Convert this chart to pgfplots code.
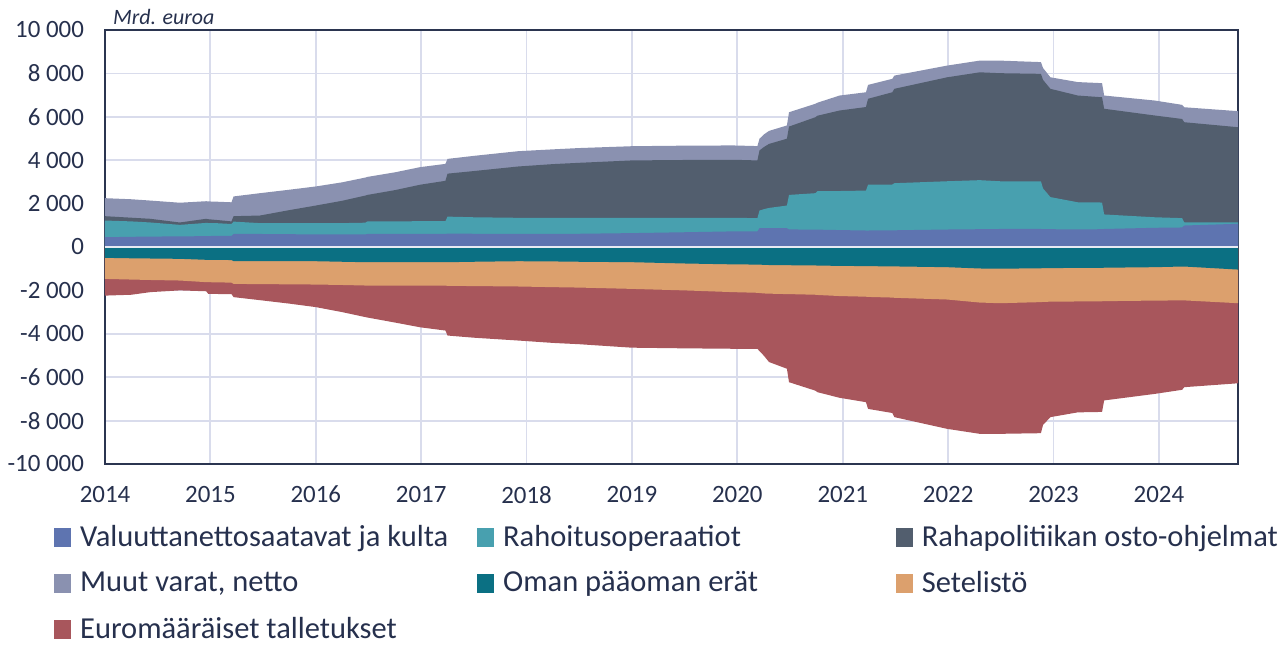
\documentclass[border=0pt]{standalone}
\usepackage{pgfplots}
\pgfplotsset{compat=1.18}
\usepackage{pgfplotstable}
\usepackage{fontspec}
\setmainfont{Carlito}
\definecolor{cVal}{HTML}{5E74B0}
\definecolor{cRah}{HTML}{48A0AF}
\definecolor{cOsto}{HTML}{525E6E}
\definecolor{cMuut}{HTML}{8A91B0}
\definecolor{cOman}{HTML}{0B7083}
\definecolor{cSet}{HTML}{DCA06D}
\definecolor{cEuro}{HTML}{A8565C}
\definecolor{gridc}{HTML}{D9DCEC}
\definecolor{axisc}{HTML}{2B3550}
\definecolor{textc}{HTML}{26304D}
% cumulative boundaries: b1..b4 positive stack tops, n1..n3 negative stack bottoms
\pgfplotstableread{
x b1 b2 b3 b4 n1 n2 n3
2014.00 450 1220 1420 2250 -500 -1470 -2240
2014.25 470 1180 1350 2200 -520 -1500 -2200
2014.43 480 1130 1300 2140 -530 -1520 -2080
2014.71 490 1020 1130 2040 -545 -1545 -2000
2014.96 500 1110 1300 2110 -590 -1620 -2040
2014.98 505 1105 1280 2100 -590 -1620 -2160
2015.05 510 1100 1250 2090 -595 -1630 -2165
2015.20 510 1060 1180 2060 -600 -1640 -2170
2015.22 600 1170 1420 2330 -650 -1700 -2310
2015.47 600 1100 1450 2480 -650 -1710 -2450
2015.75 590 1100 1700 2640 -652 -1720 -2610
2016.00 580 1100 1910 2790 -655 -1730 -2770
2016.25 580 1100 2130 2980 -680 -1750 -3000
2016.47 580 1120 2370 3200 -700 -1775 -3230
2016.49 600 1180 2400 3230 -700 -1775 -3250
2016.75 600 1180 2620 3440 -700 -1775 -3480
2016.99 600 1190 2870 3680 -700 -1775 -3700
2017.23 600 1190 3050 3830 -700 -1780 -3850
2017.25 620 1400 3380 4060 -700 -1790 -4080
2017.50 610 1370 3500 4200 -680 -1800 -4180
2017.92 600 1345 3710 4415 -655 -1820 -4310
2018.25 600 1345 3820 4500 -665 -1850 -4420
2018.50 610 1345 3880 4560 -680 -1870 -4480
2019.00 640 1345 3990 4645 -700 -1930 -4640
2019.50 680 1345 4010 4670 -760 -2000 -4670
2019.96 720 1345 4020 4680 -800 -2080 -4690
2020.19 720 1330 3990 4650 -810 -2110 -4690
2020.21 866 1680 4450 4990 -815 -2120 -4800
2020.25 868 1740 4600 5180 -820 -2140 -5000
2020.30 870 1800 4750 5350 -830 -2150 -5300
2020.47 866 1910 4990 5600 -840 -2170 -5610
2020.49 810 2400 5550 6210 -840 -2170 -6230
2020.74 800 2480 5980 6600 -850 -2200 -6620
2020.76 800 2570 6050 6650 -855 -2210 -6690
2020.97 780 2580 6290 6980 -870 -2260 -6950
2021.22 760 2600 6450 7130 -880 -2290 -7150
2021.24 760 2870 6830 7470 -885 -2300 -7460
2021.47 770 2880 7130 7750 -890 -2330 -7650
2021.49 770 2940 7290 7900 -895 -2340 -7840
2021.99 806 3030 7820 8360 -930 -2420 -8380
2022.30 820 3080 8050 8590 -990 -2560 -8610
2022.49 830 3030 8010 8590 -1000 -2590 -8610
2022.88 830 3030 7980 8520 -980 -2540 -8580
2022.90 825 2700 7700 8250 -975 -2530 -8200
2022.97 820 2300 7290 7820 -970 -2520 -7840
2023.23 810 2060 6980 7600 -965 -2510 -7620
2023.46 820 2050 6900 7550 -960 -2500 -7600
2023.48 830 1500 6370 6980 -955 -2495 -7070
2023.96 885 1370 6060 6750 -930 -2470 -6770
2024.22 900 1330 5900 6550 -900 -2460 -6580
2024.24 990 1140 5750 6440 -900 -2460 -6460
2024.75 1070 1140 5520 6260 -1040 -2590 -6280
}\data

\begin{document}
\begin{tikzpicture}
\path[use as bounding box] (-52.5bp,-91.5bp) rectangle (590bp,232bp);
\begin{axis}[
  at={(0,0)}, anchor=south west,
  scale only axis, width=566.5bp, height=217bp,
  xmin=2014, xmax=2024.75, ymin=-10000, ymax=10000,
  xtick={2014,2015,...,2024}, ytick={-10000,-8000,...,10000},
  grid=major, major grid style={color=gridc, line width=0.9bp},
  axis line style={color=axisc, line width=1bp},
  major tick length=0pt,
  tick label style={font=\fontsize{12.5}{14}\selectfont, color=textc},
  /pgf/number format/assume math mode=true,
  scaled y ticks=false, scaled x ticks=false,
  yticklabel style={/pgf/number format/1000 sep={\ }, xshift=-7bp},
  xticklabel style={/pgf/number format/1000 sep={}, yshift=-7.5bp},
  legend columns=3,
  legend cell align=left,
  legend style={draw=none, fill=none, at={(0,0)}, anchor=north west,
    xshift=-28.5bp, yshift=-23bp,
    font=\fontsize{15.3}{17}\selectfont, text=textc,
    nodes={inner sep=0pt, minimum height=23bp},
    /tikz/every odd column/.append style={column sep=4.5bp},
    /tikz/column 2/.style={column sep=14.5bp},
    /tikz/column 4/.style={column sep=69bp}},
  legend image code/.code={\fill[#1] (0bp,-4.5bp) rectangle (8bp,4.5bp);},
]
\addlegendimage{cVal}\addlegendentry{Valuuttanettosaatavat ja kulta}
\addlegendimage{cRah}\addlegendentry{Rahoitusoperaatiot}
\addlegendimage{cOsto}\addlegendentry{Rahapolitiikan osto-ohjelmat}
\addlegendimage{cMuut}\addlegendentry{Muut varat, netto}
\addlegendimage{cOman}\addlegendentry{Oman pääoman erät}
\addlegendimage{cSet}\addlegendentry{Setelistö}
\addlegendimage{cEuro}\addlegendentry{Euromääräiset talletukset}

\addplot[fill=cMuut, draw=none, forget plot] table[x=x, y=b4] {\data} \closedcycle;
\addplot[fill=cOsto, draw=none, forget plot] table[x=x, y=b3] {\data} \closedcycle;
\addplot[fill=cRah, draw=none, forget plot] table[x=x, y=b2] {\data} \closedcycle;
\addplot[fill=cVal, draw=none, forget plot] table[x=x, y=b1] {\data} \closedcycle;
\addplot[fill=cEuro, draw=none, forget plot] table[x=x, y=n3] {\data} \closedcycle;
\addplot[fill=cSet, draw=none, forget plot] table[x=x, y=n2] {\data} \closedcycle;
\addplot[fill=cOman, draw=none, forget plot] table[x=x, y=n1] {\data} \closedcycle;
\addplot[color=white!85!cVal, line width=0.6bp, forget plot] coordinates {(2014,0) (2024.75,0)};
\end{axis}
\node[anchor=base west, font=\itshape\fontsize{11}{13}\selectfont, text=textc] at (0.5bp,219.5bp) {Mrd. euroa};
\end{tikzpicture}
\end{document}
